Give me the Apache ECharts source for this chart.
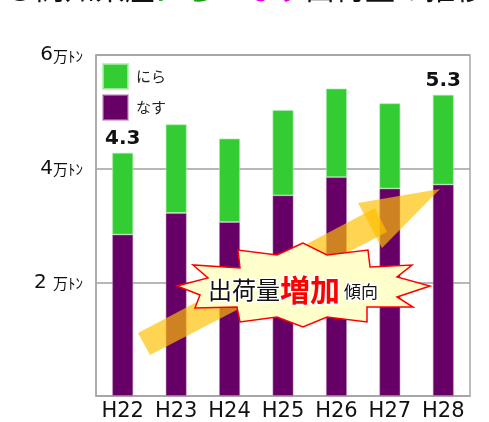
<!DOCTYPE html>
<html><head><meta charset="utf-8">
<script src="https://cdn.jsdelivr.net/npm/echarts@6/dist/echarts.min.js"></script>
<style>html,body{margin:0;padding:0;background:#fff}#c{width:489px;height:422px}</style>
</head><body><div id="c"></div>
<script>
const categories = ['H22','H23','H24','H25','H26','H27','H28'];
const nasu = [2.84, 3.22, 3.06, 3.53, 3.85, 3.65, 3.72];
const nira = [1.44, 1.56, 1.47, 1.50, 1.56, 1.50, 1.58];
const totalLabels = ['4.3','','','','','','5.3'];
const yTickNums = {2:'2 ', 4:'4', 6:'6'};
const yUnit = '万ﾄﾝ';

const chart = echarts.init(document.getElementById('c'), null, {renderer:'canvas'});
const arrowFill = 'rgba(255,192,0,0.68)';
const starPts = [[303,243],[277,255],[238,250],[240,268],[193,265],[208,278],[177,286],[200,295],[195,308],[237,307],[240,322],[277,317],[303,327],[327,317],[367,322],[367,307],[413,307],[397,297],[430,286],[397,277],[412,265],[370,267],[368,250],[327,255]];
chart.setOption({
  animation:false,
  textStyle:{fontFamily:'"DejaVu Sans","Noto Sans CJK JP",sans-serif'},
  grid:{left:96,right:19,top:55,bottom:25,show:true,borderColor:'#a8a8a8',borderWidth:1.5},
  legend:{data:['にら','なす'],orient:'vertical',left:97,top:58,itemWidth:25,itemHeight:25,itemGap:4,icon:'rect',
    textStyle:{fontSize:15,color:'#222',fontFamily:'"Noto Sans CJK JP",sans-serif',padding:[0,0,0,3]}},
  xAxis:{type:'category',data:categories,axisTick:{show:false},
    axisLine:{lineStyle:{color:'#a8a8a8',width:1.5}},
    axisLabel:{interval:0,fontSize:21,color:'#111',margin:5}},
  yAxis:{type:'value',min:0,max:6,interval:2,
    axisLine:{show:true,lineStyle:{color:'#a8a8a8',width:1.5}},
    splitLine:{lineStyle:{color:'#a0a0a0',width:1.5}},
    axisLabel:{margin:13,formatter:v=>v===0?'':'{n|'+yTickNums[v]+'}{u|'+yUnit+'}',
      rich:{n:{fontSize:20,color:'#111',fontFamily:'"DejaVu Sans",sans-serif'},u:{fontSize:15,color:'#111',fontFamily:'"Noto Sans CJK JP",sans-serif',padding:[2,0,0,0]}}}},
  series:[
    {name:'なす',type:'bar',stack:'t',data:nasu,barWidth:21,itemStyle:{color:'#660066',borderColor:'rgba(190,140,190,0.6)',borderWidth:0.8}},
    {name:'にら',type:'bar',stack:'t',data:nira,barWidth:21,itemStyle:{color:'#33cc33',borderColor:'rgba(170,240,170,0.8)',borderWidth:0.8},
      label:{show:true,position:'top',distance:4,fontSize:20,fontWeight:'bold',color:'#111',
        formatter:p=>totalLabels[p.dataIndex]}}
  ],
  graphic:[
    {type:'text',left:5,top:-27,z:100,style:{text:'{k|●高知県産}{g|にら}{k|・}{m|なす}{k|出荷量の推移}',
      rich:{k:{fontSize:30,fill:'#111',fontFamily:'"Noto Sans CJK JP",sans-serif'},g:{fontSize:30,fill:'#1aa01a',fontFamily:'"Noto Sans CJK JP",sans-serif',fontWeight:'bold'},m:{fontSize:30,fill:'#e600e6',fontFamily:'"Noto Sans CJK JP",sans-serif',fontWeight:'bold'}}}},
    {type:'polygon',z:50,shape:{points:[[138,333],[375,208],[387,232],[150,355]]},style:{fill:arrowFill}},
    {type:'polygon',z:51,shape:{points:[[358,203],[440,189],[382,248]]},style:{fill:arrowFill}},
    {type:'polygon',z:60,shape:{points:starPts},style:{fill:'#ffffcc',stroke:'#ff0000',lineWidth:1.5}},
    {type:'text',x:293,y:290,z:70,style:{text:'{a|出荷量}{b|増加}{c|傾向}',align:'center',verticalAlign:'middle',
      rich:{a:{fontSize:24,fill:'#111',fontFamily:'"Noto Sans CJK JP",sans-serif',stroke:'#fff',lineWidth:3},
            b:{fontSize:30,fill:'#ff0000',fontWeight:'bold',fontFamily:'"Noto Sans CJK JP",sans-serif',stroke:'#fff',lineWidth:3},
            c:{fontSize:17,fill:'#111',fontFamily:'"Noto Sans CJK JP",sans-serif',stroke:'#fff',lineWidth:3,padding:[4,0,0,4]}}}}
  ]
});
</script></body></html>
